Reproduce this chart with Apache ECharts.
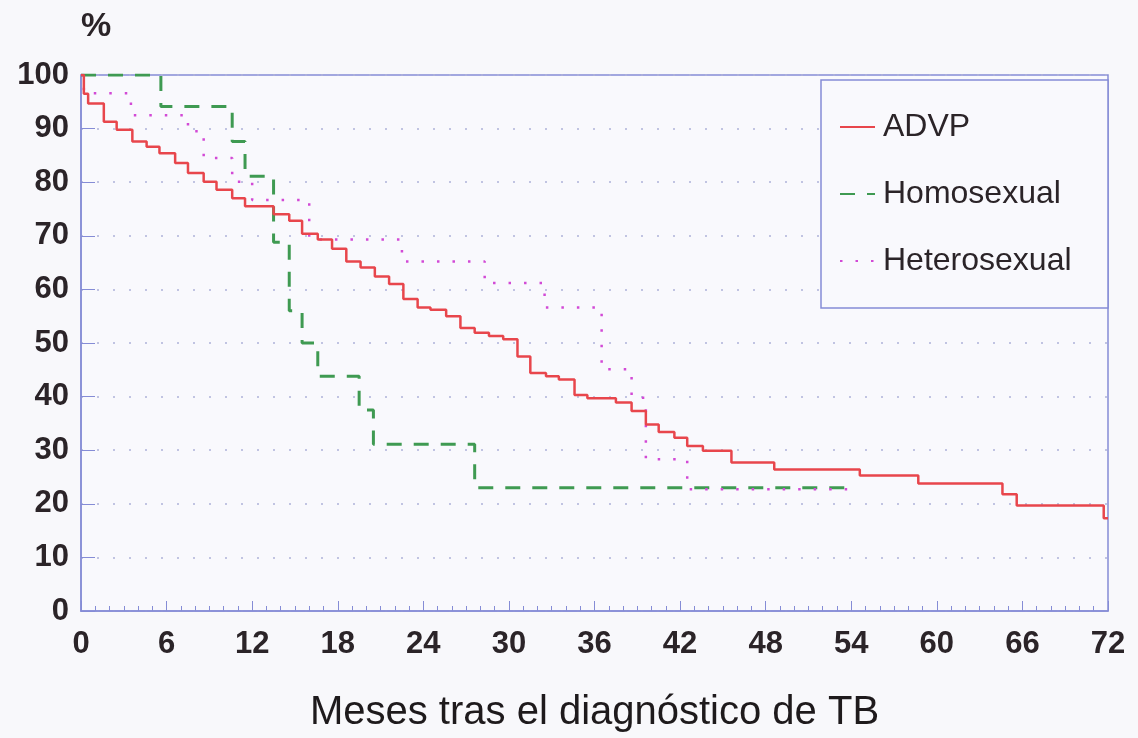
<!DOCTYPE html>
<html>
<head>
<meta charset="utf-8">
<script src="https://cdn.jsdelivr.net/npm/echarts@6/dist/echarts.min.js"></script>
<style>
  html, body { margin: 0; padding: 0; background: #f8f8fb; }
  #chart { width: 1138px; height: 738px; }
</style>
</head>
<body>
<div id="chart"></div>
<script>
'use strict';
// Kaplan-Meier steps: month at which the value becomes pct
var advpMonths = [0, 0.2, 0.5, 1.6, 2.5, 3.6, 4.6, 5.5, 6.6, 7.5, 8.6, 9.5, 10.6, 11.5, 13.5, 14.6, 15.5, 16.6, 17.6, 18.6,
    19.6, 20.6, 21.6, 22.6, 23.6, 24.5, 25.6, 26.6, 27.6, 28.6, 29.6, 30.6, 31.5, 32.6, 33.5, 34.6, 35.5, 37.5, 38.6, 39.6,
    40.5, 41.6, 42.5, 43.6, 45.6, 48.6, 54.6, 58.7, 64.6, 65.6, 71.7, 72];
var advpPct = [100, 96.5, 94.7, 91.3, 89.8, 87.6, 86.6, 85.4, 83.6, 81.7, 80.1, 78.6, 77.0, 75.5, 74.0, 72.8, 70.4, 69.3, 67.6, 65.2,
    64.1, 62.4, 61.0, 58.2, 56.6, 56.2, 55.0, 52.8, 51.9, 51.3, 50.7, 47.5, 44.4, 43.8, 43.2, 40.3, 39.7, 38.9, 37.3, 34.8,
    33.4, 32.3, 30.8, 29.9, 27.7, 26.4, 25.3, 23.8, 21.8, 19.7, 17.3, 17.3];

var homoMonths = [0, 5.6, 10.6, 11.5, 13.5, 14.6, 15.5, 16.6, 19.5, 20.5, 27.6, 54.0];
var homoPct = [100, 94.1, 87.6, 81.1, 68.8, 56.0, 50.0, 43.8, 37.5, 31.1, 23.0, 23.0];

var heteroMonths = [0, 0.2, 3.5, 7.5, 8.6, 10.6, 12.0, 16.0, 22.5, 28.3, 32.5, 36.5, 38.6, 39.6, 42.5, 54.0];
var heteroPct = [100, 96.6, 92.5, 89.5, 84.5, 80.1, 76.7, 69.3, 65.2, 61.2, 56.6, 45.1, 39.8, 28.3, 22.7, 22.7];

var seriesNames = ['ADVP', 'Homosexual', 'Heterosexual'];
var xTicks = [0, 6, 12, 18, 24, 30, 36, 42, 48, 54, 60, 66, 72];

function pairs(xs, ys) {
    return xs.map(function (x, i) { return [x, ys[i]]; });
}

var axisBlue = '#858cd6';
var font = '"Liberation Sans", Arial, sans-serif';
var labelColor = '#2b2428';

var chart = echarts.init(document.getElementById('chart'));
chart.setOption({
    backgroundColor: '#f8f8fb',
    animation: false,
    grid: {
        left: 81, right: 30, top: 75, bottom: 127,
        show: true, borderColor: axisBlue, borderWidth: 1.5, backgroundColor: '#f9f9fd'
    },
    graphic: [{
        type: 'rect', z: 5,
        shape: { x: 821, y: 80, width: 287, height: 228 },
        style: { fill: '#f9f9fd', stroke: axisBlue, lineWidth: 1.5 }
    }],
    legend: {
        data: seriesNames,
        orient: 'vertical',
        left: 839, top: 110,
        padding: 0,
        z: 10,
        itemWidth: 35, itemHeight: 14, itemGap: 33,
        itemStyle: { opacity: 0 },
        textStyle: { fontFamily: font, fontSize: 32, color: '#2b2428', lineHeight: 34, padding: [0, 0, 0, 3] }
    },
    xAxis: {
        type: 'value', min: 0, max: 72, interval: 6,
        name: 'Meses tras el diagnóstico de TB',
        nameLocation: 'middle', nameGap: 82,
        nameTextStyle: { fontFamily: font, fontSize: 40, color: '#1e1a1c' },
        axisLine: { lineStyle: { color: axisBlue, width: 1.5 } },
        axisTick: { inside: true, length: 10, lineStyle: { color: axisBlue } },
        minorTick: { show: true, splitNumber: 6, length: 5, lineStyle: { color: axisBlue } },
        axisLabel: {
            margin: 18, fontFamily: font, fontSize: 31, fontWeight: 'bold', color: labelColor,
            formatter: function (v) { return xTicks.indexOf(v) >= 0 ? String(v) : ''; }
        },
        splitLine: { show: false }
    },
    yAxis: {
        type: 'value', min: 0, max: 100, interval: 10,
        name: '%', nameLocation: 'end', nameGap: 31,
        nameTextStyle: { fontFamily: font, fontSize: 34, fontWeight: 'bold', color: labelColor, align: 'left' },
        axisLine: { show: true, lineStyle: { color: axisBlue, width: 1.5 } },
        axisTick: { inside: true, length: 14, lineStyle: { color: axisBlue } },
        axisLabel: { margin: 12, fontFamily: font, fontSize: 31, fontWeight: 'bold', color: labelColor },
        splitLine: { show: true, lineStyle: { color: '#aeb3d9', width: 1.5, type: [2, 14] } }
    },
    series: [{
        name: seriesNames[0], type: 'line', step: 'end', symbol: 'none', z: 3,
        data: pairs(advpMonths, advpPct),
        lineStyle: { color: '#e8464c', width: 2.5 },
        itemStyle: { color: '#e8464c' }
    }, {
        name: seriesNames[1], type: 'line', step: 'end', symbol: 'none', z: 2,
        data: pairs(homoMonths, homoPct),
        lineStyle: { color: '#3f9a52', width: 3, type: [15, 12] },
        itemStyle: { color: '#3f9a52' }
    }, {
        name: seriesNames[2], type: 'line', step: 'end', symbol: 'none', z: 2,
        data: pairs(heteroMonths, heteroPct),
        lineStyle: { color: '#d24ad6', width: 2.5, type: [2.5, 13] },
        itemStyle: { color: '#d24ad6' }
    }]
});
</script>
</body>
</html>
